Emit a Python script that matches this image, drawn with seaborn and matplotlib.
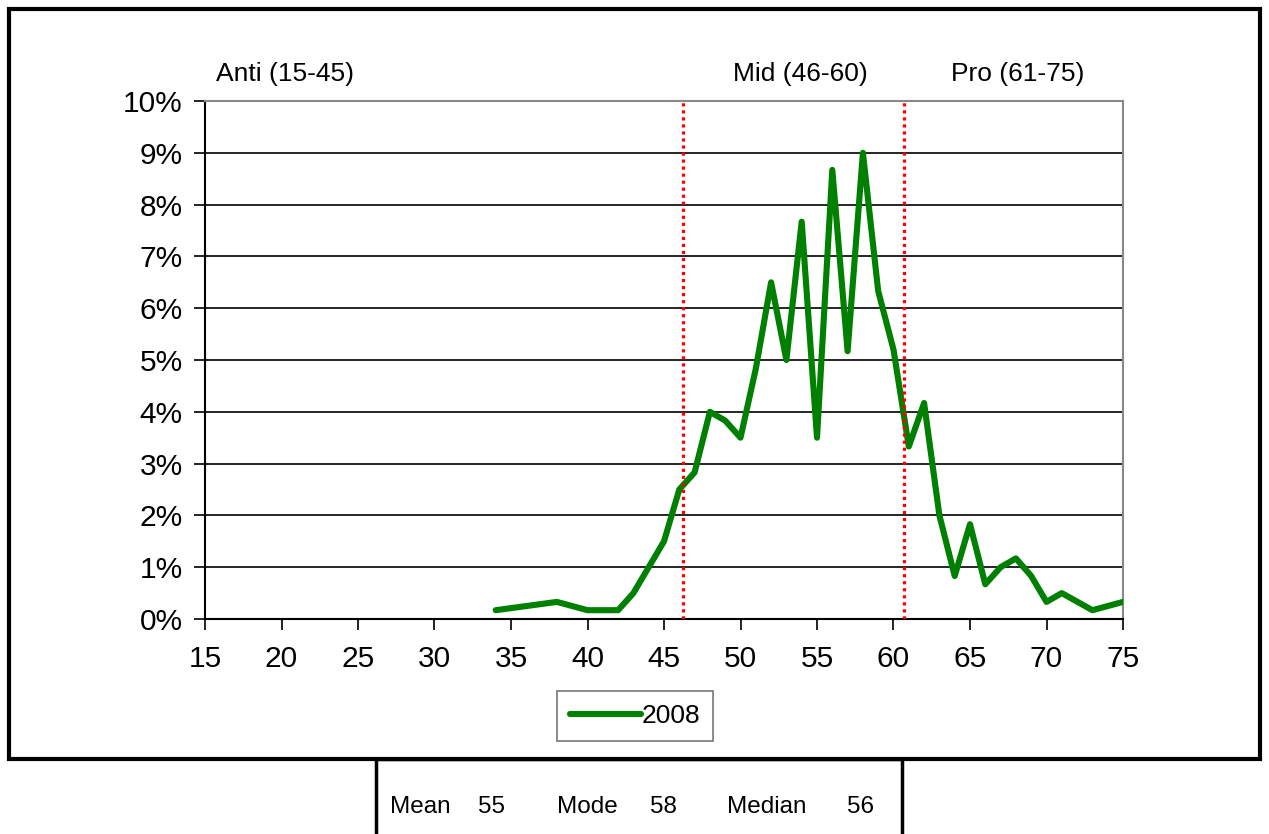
import pandas as pd
import matplotlib
matplotlib.use("Agg")
import matplotlib.pyplot as plt
import seaborn as sns
from matplotlib.patches import Rectangle
from matplotlib.ticker import PercentFormatter

# score -> share of respondents (%)
scores = [34, 38, 40, 42, 43, 44, 45, 46, 47, 48, 49, 50, 51, 52, 53, 54, 55,
          56, 57, 58, 59, 60, 61, 62, 63, 64, 65, 66, 67, 68, 69, 70, 71, 73, 75]
share_2008 = [0.17, 0.33, 0.17, 0.17, 0.5, 1.0, 1.5, 2.5, 2.83, 4.0, 3.83, 3.5,
              4.83, 6.5, 5.0, 7.67, 3.5, 8.67, 5.17, 9.0, 6.33, 5.2, 3.33, 4.17,
              2.0, 0.83, 1.83, 0.67, 1.0, 1.17, 0.83, 0.33, 0.5, 0.17, 0.33]
band_edges = [46.25, 60.7]
band_labels = ["Anti (15-45)", "Mid (46-60)", "Pro (61-75)"]
band_label_x = [20.2, 53.9, 68.1]
stats_labels = ["Mean", "Mode", "Median"]
stats_values = [55, 58, 56]

df = pd.DataFrame({"score": scores, "share": share_2008})

sns.set_style("white")
plt.rcParams["font.family"] = ["Liberation Sans", "DejaVu Sans"]
plt.rcParams["text.color"] = "black"
plt.rcParams["xtick.color"] = "black"
plt.rcParams["ytick.color"] = "black"

fig = plt.figure(figsize=(12.69, 8.34), dpi=100)
ax = fig.add_axes([205 / 1269, 1 - 619 / 834, 918 / 1269, 518 / 834])

# gridlines at each percent
for v in range(1, 10):
    ax.axhline(v, color="black", lw=1.2, zorder=1)

sns.lineplot(data=df, x="score", y="share", color="#008000", lw=4.4,
             label="2008", ax=ax, zorder=3)

for xe in band_edges:
    ax.axvline(xe, color="red", lw=2.3, ls=(0, (1, 1.2)), zorder=4)

ax.set_xlim(15, 75)
ax.set_ylim(0, 10)
ax.set_xticks(range(15, 80, 5))
ax.set_yticks(range(0, 11))
ax.yaxis.set_major_formatter(PercentFormatter(decimals=0))
ax.tick_params(axis="both", labelsize=21.5, length=8, width=1.2, direction="out",
               bottom=True, left=True)
ax.tick_params(axis="x", pad=11)
ax.tick_params(axis="y", pad=8)
ax.set_xlabel("")
ax.set_ylabel("")
for side in ["top", "right"]:
    ax.spines[side].set_color("#888888")
    ax.spines[side].set_linewidth(1.5)
for side in ["left", "bottom"]:
    ax.spines[side].set_color("black")
    ax.spines[side].set_linewidth(1.5)

for lab, xl in zip(band_labels, band_label_x):
    ax.text(xl, 10.53, lab, ha="center", va="center", fontsize=19)

leg = ax.legend(loc="center", bbox_to_anchor=(635 / 1269, 1 - 716 / 834),
                bbox_transform=fig.transFigure, fontsize=19, frameon=True,
                fancybox=False, edgecolor="#555555", handlelength=2.7,
                handletextpad=0.0, borderpad=0.5, borderaxespad=0)
leg.get_frame().set_linewidth(1.2)

# outer chart border and stats box
fig.patches.append(Rectangle((9 / 1269, 1 - 759 / 834), 1251 / 1269, 750 / 834,
                             transform=fig.transFigure, fill=False,
                             edgecolor="black", lw=3, zorder=0))
fig.patches.append(Rectangle((376 / 1269, -0.05), 526 / 1269, 0.05 + 75 / 834,
                             transform=fig.transFigure, fill=False,
                             edgecolor="black", lw=2.5, zorder=0))

stat_x = [[390, 478], [557, 650], [727, 847]]
for lab, val, (xl, xv) in zip(stats_labels, stats_values, stat_x):
    fig.text(xl / 1269, 1 - 807 / 834, lab, ha="left", va="center", fontsize=17.5)
    fig.text(xv / 1269, 1 - 807 / 834, str(val), ha="left", va="center", fontsize=17.5)

fig.savefig("out.png", dpi=100)
